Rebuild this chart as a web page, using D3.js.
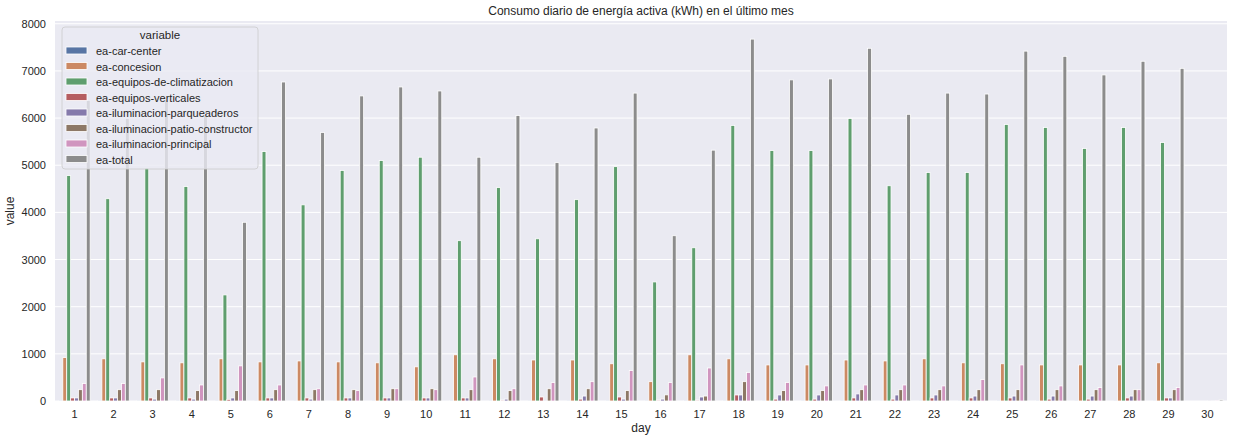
<!DOCTYPE html>
<html>
<head>
<meta charset="utf-8">
<script src="https://cdn.jsdelivr.net/npm/d3@7"></script>
<style>
  body { margin: 0; background: #fff; }
  text { font-family: "Liberation Sans", Arial, sans-serif; fill: #262626; }
</style>
</head>
<body>
<svg id="chart" width="1234" height="442"></svg>
<script>
// data
var days = d3.range(1, 31).map(String);
var seriesNames = ["ea-car-center", "ea-concesion", "ea-equipos-de-climatizacion", "ea-equipos-verticales",
  "ea-iluminacion-parqueaderos", "ea-iluminacion-patio-constructor", "ea-iluminacion-principal", "ea-total"];

var carCenter = [6, 6, 4, 6, 6, 6, 4, 4, 6, 4, 6, 4, 4, 6, 4, 4, 6, 4, 6, 6, 6, 4, 4, 6, 6, 6, 6, 6, 4, 0];
var concesion = [920, 895, 830, 810, 895, 830, 850, 830, 810, 725, 980, 895, 870, 870, 790, 410, 980, 895, 765, 765, 870, 850, 895, 810, 790, 765, 765, 765, 810, 0];
var climatizacion = [4780, 4290, 4940, 4550, 2250, 5290, 4160, 4890, 5100, 5170, 3400, 4525, 3440, 4270, 4970, 2525, 3250, 5845, 5310, 5310, 5990, 4565, 4845, 4845, 5865, 5800, 5355, 5800, 5480, 0];
var verticales = [65, 65, 65, 65, 35, 65, 65, 65, 65, 65, 65, 20, 85, 40, 85, 20, 20, 128, 40, 40, 65, 40, 65, 65, 65, 40, 40, 65, 65, 0];
var parqueaderos = [65, 65, 40, 40, 65, 65, 40, 65, 65, 65, 65, 40, 5, 105, 40, 40, 85, 128, 128, 128, 150, 128, 128, 105, 105, 105, 105, 105, 65, 5];
var patioConstructor = [240, 240, 240, 220, 220, 240, 240, 240, 260, 260, 240, 220, 260, 260, 220, 130, 105, 410, 220, 220, 240, 240, 240, 240, 240, 240, 240, 240, 240, 0];
var principal = [370, 370, 490, 340, 745, 340, 260, 220, 260, 240, 510, 260, 390, 410, 645, 390, 700, 605, 390, 320, 340, 340, 320, 455, 765, 320, 285, 240, 285, 5];
var total = [6375, 5990, 6400, 6050, 3790, 6765, 5695, 6470, 6660, 6575, 5170, 6055, 5055, 5790, 6530, 3505, 5320, 7675, 6810, 6830, 7480, 6080, 6530, 6510, 7420, 7310, 6915, 7205, 7055, 25];

var seriesValues = [carCenter, concesion, climatizacion, verticales, parqueaderos, patioConstructor, principal, total];
var colors = ["#5875a4", "#cc8963", "#5f9e6e", "#b55d60", "#857aab", "#8d7866", "#d095bf", "#8c8c8c"];
var yTicks = [0, 1000, 2000, 3000, 4000, 5000, 6000, 7000, 8000];

var svg = d3.select("#chart");
var margin = {left: 55, right: 1227, top: 21, bottom: 401};

var x = d3.scaleBand().domain(days).range([margin.left, margin.right]).padding(0);
var xInner = d3.scaleBand().domain(seriesNames)
  .range([x.bandwidth() * 0.1, x.bandwidth() * 0.9]).padding(0);
var y = d3.scaleLinear().domain([0, d3.max(total) * 1.05]).range([margin.bottom, margin.top]);

// background
svg.append("rect")
  .attr("x", margin.left).attr("y", margin.top)
  .attr("width", margin.right - margin.left).attr("height", margin.bottom - margin.top)
  .attr("fill", "#eaeaf2");

// horizontal grid only
svg.append("g").selectAll("line")
  .data(yTicks).enter().append("line")
  .attr("x1", margin.left).attr("x2", margin.right)
  .attr("y1", function(d){ return y(d); }).attr("y2", function(d){ return y(d); })
  .attr("stroke", "#fff").attr("stroke-width", 1);

// bars
var rows = [];
days.forEach(function(day, i){
  seriesNames.forEach(function(s, j){
    rows.push({day: day, series: s, value: seriesValues[j][i], color: colors[j]});
  });
});

svg.append("g").selectAll("rect")
  .data(rows).enter().append("rect")
  .attr("x", function(d){ return x(d.day) + xInner(d.series); })
  .attr("y", function(d){ return y(d.value); })
  .attr("width", xInner.bandwidth())
  .attr("height", function(d){ return y(0) - y(d.value); })
  .attr("fill", function(d){ return d.color; })
  .attr("stroke", "#fff").attr("stroke-width", 0.8);

// axes
var yAxis = svg.append("g")
  .attr("transform", "translate(" + margin.left + ",0)")
  .call(d3.axisLeft(y).tickValues(yTicks).tickSize(0).tickPadding(9).tickFormat(d3.format("d")));
yAxis.select(".domain").remove();
yAxis.selectAll("text").style("font-size", "11px").style("fill", "#262626")
  .style("font-family", "'Liberation Sans', Arial, sans-serif");

var xAxis = svg.append("g")
  .attr("transform", "translate(0," + margin.bottom + ")")
  .call(d3.axisBottom(x).tickSize(0).tickPadding(9));
xAxis.select(".domain").remove();
xAxis.selectAll("text").style("font-size", "11px").style("fill", "#262626")
  .style("font-family", "'Liberation Sans', Arial, sans-serif");

// labels
svg.append("text")
  .attr("x", (margin.left + margin.right) / 2).attr("y", 15)
  .attr("text-anchor", "middle").style("font-size", "12px")
  .text("Consumo diario de energía activa (kWh) en el último mes");

svg.append("text")
  .attr("x", (margin.left + margin.right) / 2).attr("y", 432)
  .attr("text-anchor", "middle").style("font-size", "12px")
  .text("day");

svg.append("text")
  .attr("transform", "translate(14," + (margin.top + margin.bottom) / 2 + ") rotate(-90)")
  .attr("text-anchor", "middle").style("font-size", "12px")
  .text("value");

// legend
var legend = svg.append("g").attr("transform", "translate(62,27)");
legend.append("rect")
  .attr("width", 196).attr("height", 142).attr("rx", 3)
  .attr("fill", "#eaeaf2").attr("fill-opacity", 0.8)
  .attr("stroke", "#cccccc").attr("stroke-width", 0.8);

legend.append("text")
  .attr("x", 98).attr("y", 12)
  .attr("text-anchor", "middle").style("font-size", "11.5px")
  .text("variable");

var item = legend.selectAll("g.item")
  .data(seriesNames).enter().append("g")
  .attr("class", "item")
  .attr("transform", function(d, i){ return "translate(0," + (24 + i * 15.5) + ")"; });

item.append("rect")
  .attr("x", 4).attr("y", -4).attr("width", 21).attr("height", 7)
  .attr("fill", function(d, i){ return colors[i]; })
  .attr("stroke", "#fff").attr("stroke-width", 0.8);

item.append("text")
  .attr("x", 34).attr("y", 4)
  .style("font-size", "11px")
  .text(function(d){ return d; });
</script>
</body>
</html>
